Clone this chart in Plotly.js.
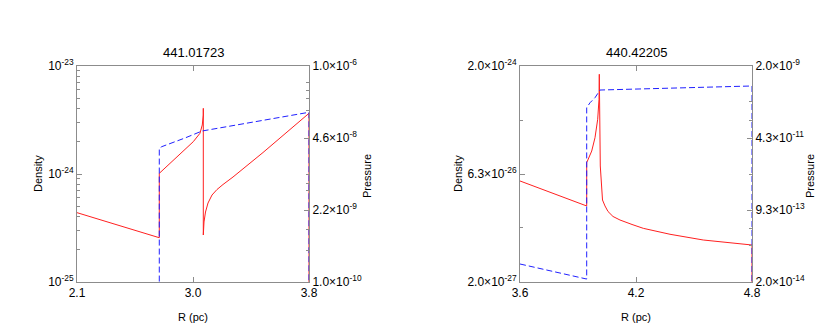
<!DOCTYPE html>
<html>
<head>
<meta charset="utf-8">
<script src="https://cdn.plot.ly/plotly-3.0.1.min.js"></script>
<style>html,body{margin:0;padding:0;background:#fff;}#chart{width:830px;height:332px;}</style>
</head>
<body>
<div id="chart"></div>
<script>
// ---- Panel A (t = 441.01723) ----
const titleA = "441.01723";
const rA_dens = [2.1, 2.703, 2.703, 2.7815, 2.879, 2.952, 3.001, 3.018, 3.0255, 3.0255, 3.0255, 3.0306, 3.0416, 3.0599, 3.0892, 3.1259, 3.1698, 3.2431, 3.4629, 3.6828, 3.8, 3.8];
const densA = [4.385e-25, 2.57e-25, 1.014e-24, 1.256e-24, 1.607e-24, 1.991e-24, 2.382e-24, 2.844e-24, 3.516e-24, 4.055e-24, 2.723e-25, 3.597e-25, 4.448e-25, 5.387e-25, 6.391e-25, 7.185e-25, 7.995e-25, 9.38e-25, 1.581e-24, 2.695e-24, 3.648e-24, 1e-27];
const rA_pres = [2.1, 2.703, 2.703, 2.72, 2.891, 3.016, 3.8, 3.8];
const presA = [5e-11, 5e-11, 2.99e-8, 3.2e-8, 4.64e-8, 6.25e-8, 1.39e-7, 1e-12];

const xTickA = [2.1, 2.95, 3.8];
const xTickTextA = ["2.1", "3.0", "3.8"];
const dTickA = [1e-25, 1e-24, 1e-23];
const dTickTextA = ["10<sup>-25</sup>", "10<sup>-24</sup>", "10<sup>-23</sup>"];
const dMinorA = [2e-25,3e-25,4e-25,5e-25,6e-25,7e-25,8e-25,9e-25,2e-24,3e-24,4e-24,5e-24,6e-24,7e-24,8e-24,9e-24];
const pTickA = [1e-10, 2.154e-9, 4.642e-8, 1e-6];
const pTickTextA = ["1.0×10<sup>-10</sup>", "2.2×10<sup>-9</sup>", "4.6×10<sup>-8</sup>", "1.0×10<sup>-6</sup>"];
const pMinorA = [3.9e-10, 9.2e-10, 4.9e-9, 6.8e-9, 1.0e-8, 1.5e-7, 2.5e-7, 3.5e-7, 5e-7];

// ---- Panel B (t = 440.42205) ----
const titleB = "440.42205";
const rB_dens = [3.6, 3.945, 3.945, 3.9709, 3.9879, 4.0019, 4.0086, 4.0102, 4.0153, 4.0226, 4.0267, 4.0397, 4.0552, 4.081, 4.1172, 4.1793, 4.2378, 4.3759, 4.548, 4.8, 4.8];
const densB = [5.06e-26, 2.275e-26, 9.08e-26, 1.318e-25, 2.018e-25, 3.64e-25, 6.89e-25, 1.535e-24, 8.17e-26, 3.44e-26, 2.754e-26, 2.275e-26, 1.906e-26, 1.626e-26, 1.452e-26, 1.259e-26, 1.113e-26, 9.2e-27, 7.66e-27, 6.53e-27, 1e-28];
const rB_pres = [3.6, 3.945, 3.945, 3.962, 3.988, 4.0138, 4.8, 4.8];
const presB = [5.22e-14, 2.34e-14, 2.17e-10, 2.82e-10, 3.69e-10, 5.56e-10, 6.89e-10, 1e-16];

const xTickB = [3.6, 4.2, 4.8];
const xTickTextB = ["3.6", "4.2", "4.8"];
const dTickB = [2e-27, 6.3246e-26, 2e-24];
const dTickTextB = ["2.0×10<sup>-27</sup>", "6.3×10<sup>-26</sup>", "2.0×10<sup>-24</sup>"];
const dMinorB = [1.125e-26, 3.557e-25];
const pTickB = [2e-14, 9.283e-13, 4.309e-11, 2e-9];
const pTickTextB = ["2.0×10<sup>-14</sup>", "9.3×10<sup>-13</sup>", "4.3×10<sup>-11</sup>", "2.0×10<sup>-9</sup>"];
const pMinorB = [1.43e-13, 3.5e-13, 6.0e-12, 1.12e-10, 2.98e-10];

const xLabel = "R (pc)";
const yLabelL = "Density";
const yLabelR = "Pressure";

// ---- styles ----
const FONT = "Liberation Sans, Arial, Helvetica, sans-serif";
const AXC = "#8c8c8c";
const W = 830, H = 332;
const domAx = [77/W, 309/W];
const domBx = [520/W, 752/W];
const domY = [(H-282)/H, (H-66)/H];

function xax(range, tv, tt, anchor, dom) {
  return {domain: dom, anchor: anchor, range: range, tickmode: "array", tickvals: tv, ticktext: tt,
    ticks: "inside", ticklen: 5, tickcolor: AXC, showline: true, linecolor: AXC, linewidth: 1,
    mirror: "ticks", showgrid: false, zeroline: false, tickfont: {family: FONT, size: 12, color: "#000"}};
}
function yax(range, tv, tt, minor, anchor, side, overlay) {
  const a = {domain: domY, anchor: anchor, type: "log", range: range, tickmode: "array", tickvals: tv, ticktext: tt,
    ticks: "inside", ticklen: 5, tickcolor: AXC, showline: true, linecolor: AXC, linewidth: 1,
    showgrid: false, zeroline: false, side: side, tickfont: {family: FONT, size: 12, color: "#000"},
    minor: {tickmode: "array", tickvals: minor, ticks: "inside", ticklen: 3, tickcolor: AXC, showgrid: false}};
  if (overlay) a.overlaying = overlay;
  return a;
}

const lg = Math.log10;
const traces = [
  {x: rA_dens, y: densA, xaxis: "x", yaxis: "y", mode: "lines", line: {color: "#ff2020", width: 1}, hoverinfo: "skip"},
  {x: rA_pres, y: presA, xaxis: "x", yaxis: "y2", mode: "lines", line: {color: "#2020ff", width: 1, dash: "6px,3px"}, hoverinfo: "skip"},
  {x: rB_dens, y: densB, xaxis: "x2", yaxis: "y3", mode: "lines", line: {color: "#ff2020", width: 1}, hoverinfo: "skip"},
  {x: rB_pres, y: presB, xaxis: "x2", yaxis: "y4", mode: "lines", line: {color: "#2020ff", width: 1, dash: "6px,3px"}, hoverinfo: "skip"}
];

function ann(text, x, y, size, rot) {
  return {text: text, x: x, y: y, xref: "paper", yref: "paper", showarrow: false, textangle: rot || 0,
    xanchor: "center", yanchor: "middle", font: {family: FONT, size: size, color: "#000"}};
}

const layout = {
  width: W, height: H, margin: {l: 0, r: 0, t: 0, b: 0}, showlegend: false,
  paper_bgcolor: "#fff", plot_bgcolor: "#fff",
  xaxis: xax([2.1, 3.8], xTickA, xTickTextA, "y", domAx),
  yaxis: yax([lg(1e-25), lg(1e-23)], dTickA, dTickTextA, dMinorA, "x", "left"),
  yaxis2: yax([lg(1e-10), lg(1e-6)], pTickA, pTickTextA, pMinorA, "x", "right", "y"),
  xaxis2: xax([3.6, 4.8], xTickB, xTickTextB, "y3", domBx),
  yaxis3: yax([lg(2e-27), lg(2e-24)], dTickB, dTickTextB, dMinorB, "x2", "left"),
  yaxis4: yax([lg(2e-14), lg(2e-9)], pTickB, pTickTextB, pMinorB, "x2", "right", "y3"),
  annotations: [
    ann(titleA, 193/W, 1 - 53/H, 13),
    ann(titleB, 636/W, 1 - 53/H, 13),
    ann(xLabel, 193/W, 1 - 317/H, 11),
    ann(xLabel, 636/W, 1 - 317/H, 11),
    ann(yLabelL, 38/W, 1 - 174/H, 11, -90),
    ann(yLabelR, 367/W, 1 - 176/H, 11, -90),
    ann(yLabelL, 458/W, 1 - 174/H, 11, -90),
    ann(yLabelR, 810/W, 1 - 176/H, 11, -90)
  ]
};

Plotly.newPlot("chart", traces, layout, {staticPlot: true, displayModeBar: false});
</script>
</body>
</html>
